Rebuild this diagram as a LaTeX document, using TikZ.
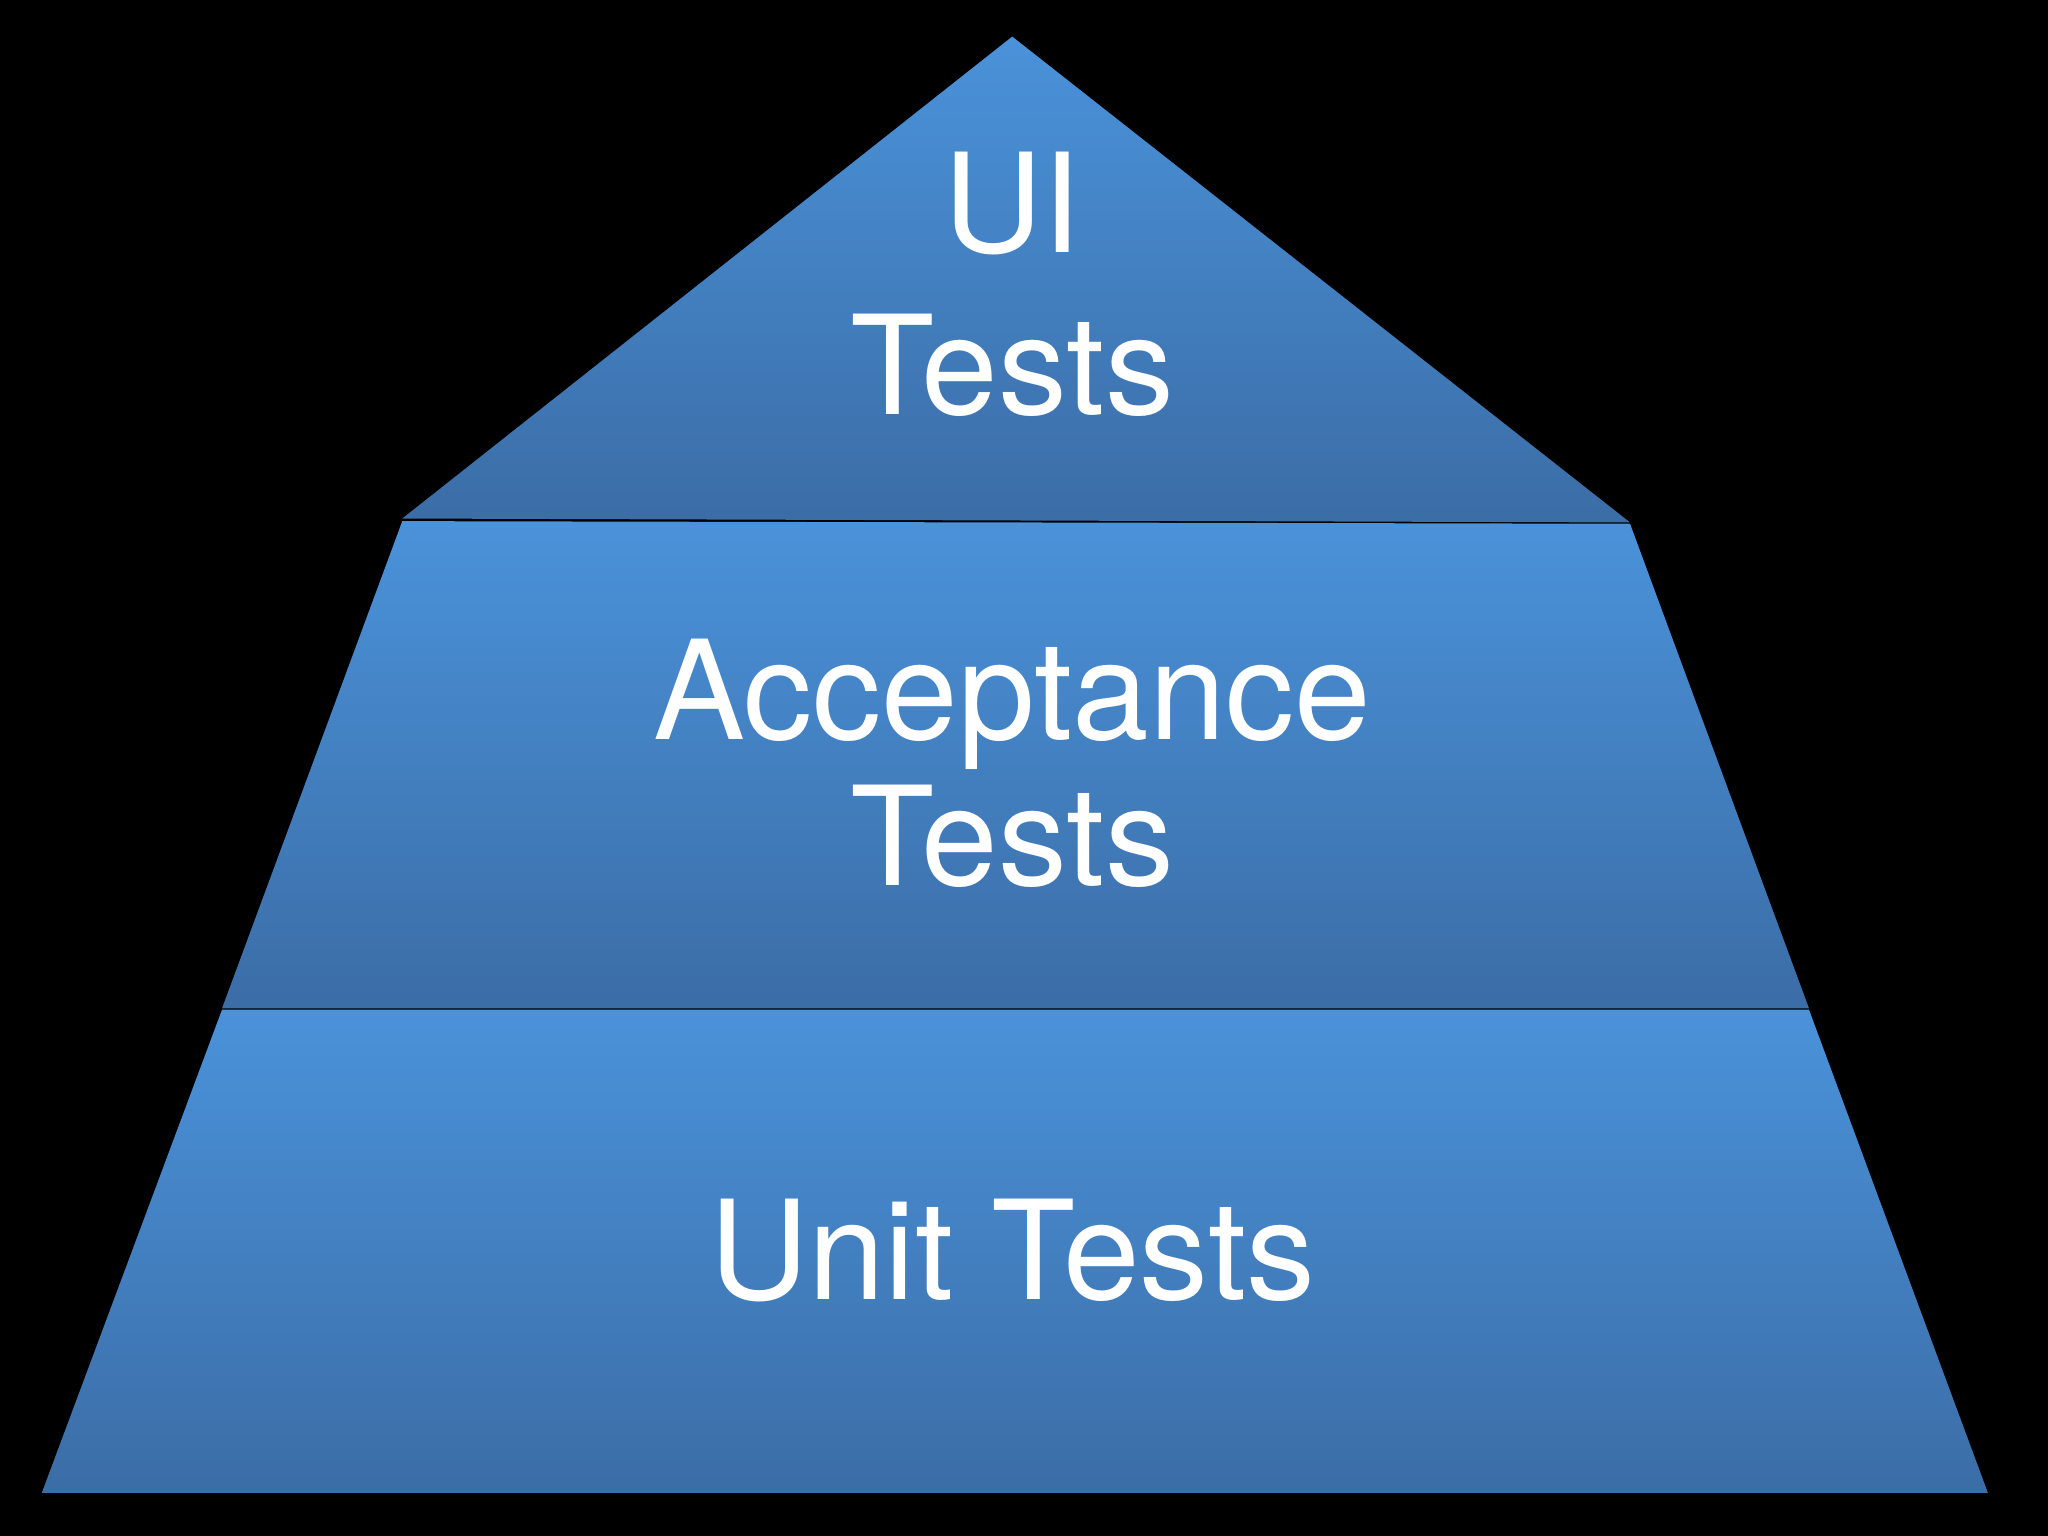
\documentclass[tikz,border=0pt]{standalone}
\usepackage{fontspec}
\setmainfont{TeX Gyre Heros}
\begin{document}
\begin{tikzpicture}[x=0.01cm,y=-0.01cm,
  band/.style={top color=blue1,bottom color=blue2,draw=none},
  lbl/.style={text=white,font=\fontsize{30}{36}\selectfont,inner sep=0pt,anchor=base}]
\definecolor{blue1}{HTML}{4A92DA}
\definecolor{blue2}{HTML}{3B6DA6}
\fill[black] (0,0) rectangle (1568,1176);
\useasboundingbox (0,0) rectangle (1568,1176);
\shade[band] (775,28) -- (1248,400) -- (308,397) -- cycle;
\shade[band] (308,399) -- (1248,401) -- (1385,772) -- (170,772) -- cycle;
\shade[band] (170,773) -- (1385,773) -- (1522,1143) -- (32,1143) -- cycle;
\node[lbl] (ui) at (775,193) {UI};
\node[lbl] (t1) at (775,317) {Tests};
\node[lbl] (acc) at (775,566) {Acceptance};
\node[lbl] (t2) at (775,678) {Tests};
\node[lbl] (unit) at (775,995) {Unit Tests};
\end{tikzpicture}
\end{document}
